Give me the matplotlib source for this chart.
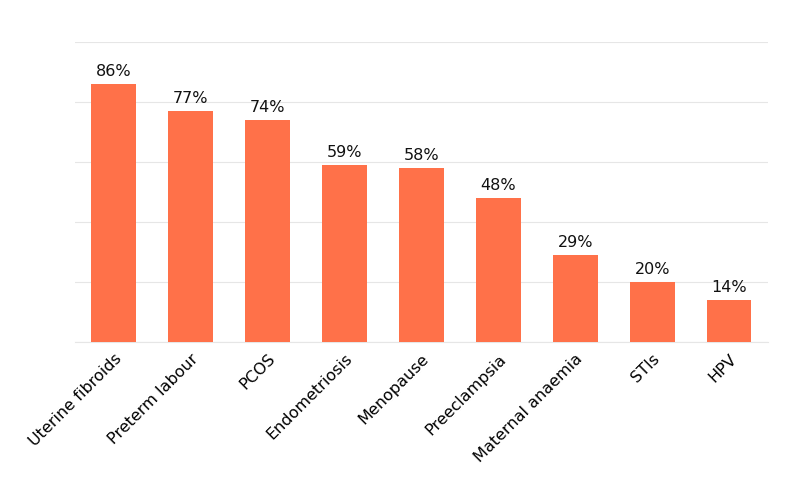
import matplotlib.pyplot as plt

categories = ["Uterine fibroids", "Preterm labour", "PCOS", "Endometriosis", "Menopause",
              "Preeclampsia", "Maternal anaemia", "STIs", "HPV"]
values = [86, 77, 74, 59, 58, 48, 29, 20, 14]

fig = plt.figure(figsize=(8.08, 4.85), dpi=100)
ax = fig.add_axes([0.093, 0.293, 0.857, 0.618])
x = range(len(categories))
bars = ax.bar(x, values, width=0.58, color="#FF7149", zorder=3)
for xi, v in zip(x, values):
    ax.text(xi, v + 2, f"{v}%", ha="center", va="bottom", fontsize=11.5, color="#111111")
ax.set_xlim(-0.5, len(categories) - 0.5)
ax.set_ylim(0, 100)
ax.set_yticks(range(0, 101, 20))
ax.yaxis.grid(True, color="#e6e6e6", linewidth=0.8, zorder=0)
ax.tick_params(axis="y", left=False, labelleft=False)
ax.tick_params(axis="x", length=0, pad=6)
ax.set_xticks(list(x))
ax.set_xticklabels(categories, rotation=45, ha="right", rotation_mode="anchor", fontsize=11.5)
for s in ["top", "right", "left"]:
    ax.spines[s].set_visible(False)
ax.spines["bottom"].set_color("#e6e6e6")
fig.savefig("out.png", dpi=100, facecolor="white")
